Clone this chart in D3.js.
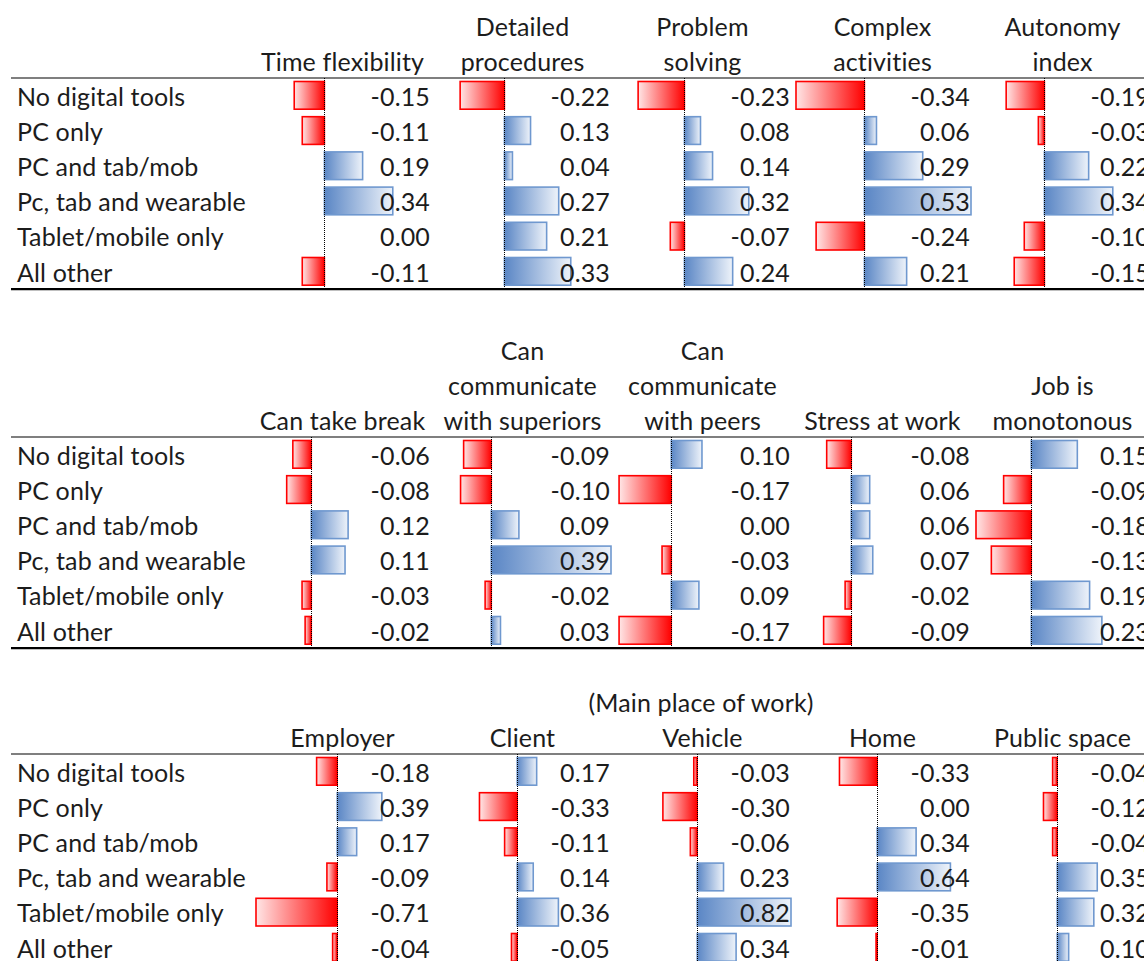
<!DOCTYPE html>
<html>
<head>
<meta charset="utf-8">
<script src="https://cdn.jsdelivr.net/npm/d3@7"></script>
<style>
  html, body { margin: 0; padding: 0; background: #fff; }
  svg { display: block; }
  text { font-family: Lato, "Noto Sans", sans-serif; fill: #1c1c1c; letter-spacing: 0.15px; }
</style>
</head>
<body>
<svg id="chart" width="1144" height="961"></svg>
<script>
// ---------- DATA ----------
const categories = ["No digital tools", "PC only", "PC and tab/mob", "Pc, tab and wearable", "Tablet/mobile only", "All other"];

const panel1Headers = [["Time flexibility"], ["Detailed", "procedures"], ["Problem", "solving"], ["Complex", "activities"], ["Autonomy", "index"]];
const timeFlexibility   = [-0.15, -0.11, 0.19, 0.34, 0.00, -0.11];
const detailedProcedures = [-0.22, 0.13, 0.04, 0.27, 0.21, 0.33];
const problemSolving    = [-0.23, 0.08, 0.14, 0.32, -0.07, 0.24];
const complexActivities = [-0.34, 0.06, 0.29, 0.53, -0.24, 0.21];
const autonomyIndex     = [-0.19, -0.03, 0.22, 0.34, -0.10, -0.15];

const panel2Headers = [["Can take break"], ["Can", "communicate", "with superiors"], ["Can", "communicate", "with peers"], ["Stress at work"], ["Job is", "monotonous"]];
const canTakeBreak      = [-0.06, -0.08, 0.12, 0.11, -0.03, -0.02];
const commSuperiors     = [-0.09, -0.10, 0.09, 0.39, -0.02, 0.03];
const commPeers         = [0.10, -0.17, 0.00, -0.03, 0.09, -0.17];
const stressAtWork      = [-0.08, 0.06, 0.06, 0.07, -0.02, -0.09];
const jobMonotonous     = [0.15, -0.09, -0.18, -0.13, 0.19, 0.23];

const panel3Title = "(Main place of work)";
const panel3Headers = [["Employer"], ["Client"], ["Vehicle"], ["Home"], ["Public space"]];
const placeEmployer     = [-0.18, 0.39, 0.17, -0.09, -0.71, -0.04];
const placeClient       = [0.17, -0.33, -0.11, 0.14, 0.36, -0.05];
const placeVehicle      = [-0.03, -0.30, -0.06, 0.23, 0.82, 0.34];
const placeHome         = [-0.33, 0.00, 0.34, 0.64, -0.35, -0.01];
const placePublic       = [-0.04, -0.12, -0.04, 0.35, 0.32, 0.10];

const panels = [
  { headers: panel1Headers, series: [timeFlexibility, detailedProcedures, problemSolving, complexActivities, autonomyIndex], lineY: 78, title: null },
  { headers: panel2Headers, series: [canTakeBreak, commSuperiors, commPeers, stressAtWork, jobMonotonous], lineY: 437, title: null },
  { headers: panel3Headers, series: [placeEmployer, placeClient, placeVehicle, placeHome, placePublic], lineY: 754, title: panel3Title }
];

// ---------- LAYOUT ----------
const W = 1144, H = 961;
const tableLeft = 11;
const labelX = 17;
const cellLeft0 = 256, colStep = 180, cellW = 175;
const rowH = 35.2;
const fontSize = 25;
const headerLineGap = 35;

const svg = d3.select("#chart");
const defs = svg.append("defs");

const gBlue = defs.append("linearGradient").attr("id", "gradBlue").attr("x1", 0).attr("x2", 1).attr("y1", 0).attr("y2", 0);
gBlue.append("stop").attr("offset", "0%").attr("stop-color", "#5a86c5");
gBlue.append("stop").attr("offset", "100%").attr("stop-color", "#eef3fa");
const gRed = defs.append("linearGradient").attr("id", "gradRed").attr("x1", 0).attr("x2", 1).attr("y1", 0).attr("y2", 0);
gRed.append("stop").attr("offset", "0%").attr("stop-color", "#ffe6e6");
gRed.append("stop").attr("offset", "100%").attr("stop-color", "#ff0000");

const fmt = d3.formatLocale({ decimal: ".", thousands: ",", grouping: [3], currency: ["", ""], minus: "-" }).format(".2f");

panels.forEach(p => {
  const g = svg.append("g");
  const all = p.series.flat();
  const ext = d3.extent(all);
  const y = d3.scaleBand().domain(categories).range([p.lineY, p.lineY + rowH * categories.length]).padding(0);
  const bottomY = p.lineY + rowH * categories.length;

  if (p.title) {
    g.append("text").attr("x", 701).attr("y", p.lineY - 16 - headerLineGap + 9)
      .attr("text-anchor", "middle").attr("font-size", fontSize).text(p.title);
  }

  g.selectAll("text.lab").data(categories).join("text").attr("class", "lab")
    .attr("x", labelX).attr("y", d => y(d) + 27.5)
    .attr("font-size", fontSize).text(d => d);

  p.series.forEach((vals, ci) => {
    const left = cellLeft0 + ci * colStep;
    const x = d3.scaleLinear().domain(ext).range([left, left + cellW]);
    const cg = g.append("g");

    const lines = p.headers[ci];
    lines.forEach((ln, li) => {
      cg.append("text")
        .attr("x", left + cellW / 2 - 1)
        .attr("y", p.lineY - 7.5 - (lines.length - 1 - li) * headerLineGap)
        .attr("text-anchor", "middle").attr("font-size", fontSize).text(ln);
    });

    cg.selectAll("rect.bar").data(vals.map((v, i) => ({ v, c: categories[i] }))).join("rect")
      .attr("class", "bar")
      .attr("x", d => Math.min(x(0), x(d.v)))
      .attr("width", d => Math.abs(x(d.v) - x(0)))
      .attr("y", d => y(d.c) + 3.5)
      .attr("height", rowH - 7.5)
      .attr("fill", d => d.v >= 0 ? "url(#gradBlue)" : "url(#gradRed)")
      .attr("stroke", d => d.v >= 0 ? "#6f98cf" : "#ff0000")
      .attr("stroke-width", 1.6)
      .attr("display", d => d.v === 0 ? "none" : null);

    const ax = Math.round(x(0)) + 0.5;
    cg.append("line")
      .attr("x1", ax).attr("x2", ax)
      .attr("y1", p.lineY).attr("y2", bottomY)
      .attr("stroke", "#000").attr("stroke-width", 1).attr("stroke-dasharray", "1,1")
      .attr("shape-rendering", "crispEdges");

    cg.selectAll("text.val").data(vals.map((v, i) => ({ v, c: categories[i] }))).join("text")
      .attr("class", "val")
      .attr("x", left + cellW - 1)
      .attr("y", d => y(d.c) + 27.5)
      .attr("text-anchor", "end").attr("font-size", fontSize)
      .text(d => fmt(d.v));
  });

  g.append("line").attr("x1", tableLeft).attr("x2", W).attr("y1", p.lineY).attr("y2", p.lineY)
    .attr("stroke", "#000").attr("stroke-width", 1.2);
  g.append("line").attr("x1", tableLeft).attr("x2", W).attr("y1", bottomY).attr("y2", bottomY)
    .attr("stroke", "#000").attr("stroke-width", 2.2);
});
</script>
</body>
</html>
